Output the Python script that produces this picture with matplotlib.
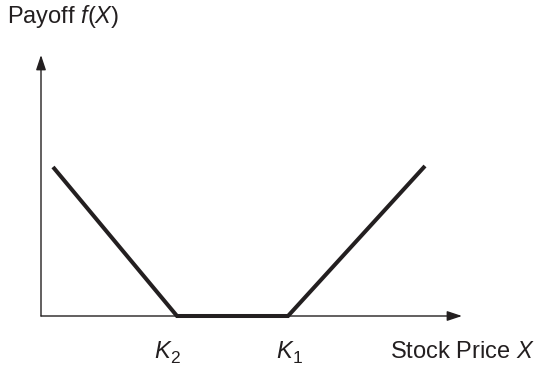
import matplotlib
matplotlib.use("Agg")
import matplotlib.pyplot as plt

# Data (arbitrary price/payoff units)
stock_price = [12, 136, 247, 384]
payoff = [149, 0, 0, 150]
strike_names = ["K", "K"]
strike_subs = ["2", "1"]
strike_values = [136, 247]

plt.rcParams['font.family'] = ['Liberation Sans', 'DejaVu Sans']
plt.rcParams['mathtext.fontset'] = 'custom'
plt.rcParams['mathtext.rm'] = 'Liberation Sans'
plt.rcParams['mathtext.it'] = 'Liberation Sans:italic'

W, H = 537, 367
fig = plt.figure(figsize=(W / 100, H / 100), dpi=100)
x0, y0 = 41, 316
x1, y1 = 462, 55
ax = fig.add_axes([x0 / W, (H - y0) / H, (x1 - x0) / W, (y0 - y1) / H])
ax.set_xlim(0, x1 - x0)
ax.set_ylim(0, y0 - y1)
ax.axis('off')

# axes arrows
for end in [(1, 0), (0, 1)]:
    ax.annotate('', xy=end, xytext=(0, 0), xycoords='axes fraction',
                arrowprops=dict(arrowstyle='-|>,head_length=0.9,head_width=0.3',
                                color='#231f20', lw=1.0, shrinkA=0, shrinkB=0))

ax.plot(stock_price, payoff, color='#231f20', lw=2.9, solid_capstyle='butt',
        solid_joinstyle='miter', clip_on=False)

offsets = [-15, -4]
for name, sub, v, off in zip(strike_names, strike_subs, strike_values, offsets):
    t = ax.text(v + off, -35, name, ha='center', va='center', style='italic',
                fontsize=17, color='#231f20')
    ax.annotate(sub, xy=(1, 0.17), xycoords=t, xytext=(0.3, 0),
                textcoords='offset points', ha='left', va='center',
                style='normal', fontsize=12.5, color='#231f20')

fig.text(390 / W, 1 - 352 / H, r"Stock Price $X$", ha='left', va='center',
         fontsize=17, color='#231f20')
fig.text(7 / W, 1 - 17 / H, r"Payoff $f(X)$", ha='left', va='center',
         fontsize=17, color='#231f20')

fig.savefig('out.png', dpi=100, facecolor='white')
